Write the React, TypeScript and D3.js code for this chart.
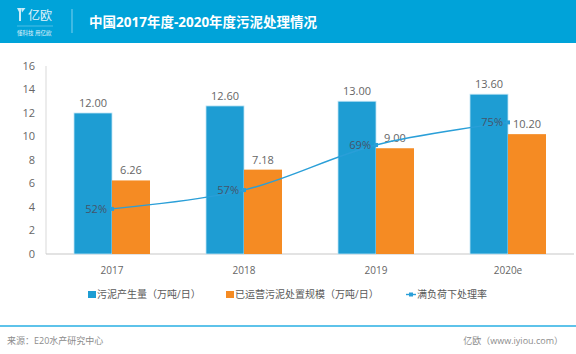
import React, { useRef, useEffect } from "react";
import * as d3 from "d3";

const years = ["2017", "2018", "2019", "2020e"];
const sludgeOutput = [12.0, 12.6, 13.0, 13.6];
const disposalCapacity = [6.26, 7.18, 9.0, 10.2];
const fullLoadRate = [52, 57, 69, 75];
const yTicks = [0, 2, 4, 6, 8, 10, 12, 14, 16];

const FONT = "'Open Sans', 'Noto Sans CJK SC', sans-serif";
const BLUE = "#1e9dd3";
const ORANGE = "#f58b23";
const LINE = "#2a9fd8";

export default function App() {
  const ref = useRef<SVGSVGElement>(null);

  useEffect(() => {
    const width = 576, height = 354;
    const margin = { top: 66, right: 2, bottom: 100, left: 46 };
    const svg = d3.select(ref.current);
    svg.selectAll("*").remove();

    // header band
    svg.append("rect").attr("x", 0).attr("y", 0).attr("width", width).attr("height", 43).attr("fill", "#00a3d9");
    const logo = svg.append("g").attr("fill", "#e3f4fb");
    logo.append("path").attr("d", "M17 8 L21 8 L21 21 L19 21 L19 12 Z M21 8 L25.5 8 L22 12.5 Z").attr("opacity", 0.9);
    logo.append("text").attr("x", 28).attr("y", 20).style("font-family", FONT).style("font-size", 12).text("亿欧");
    logo.append("line").attr("x1", 17).attr("x2", 53).attr("y1", 26).attr("y2", 26).attr("stroke", "#7fd0ee").attr("stroke-width", 0.6);
    logo.append("text").attr("x", 17).attr("y", 34.5).style("font-family", FONT).style("font-size", 5.5).text("懂科技 用亿欧");
    svg.append("line").attr("x1", 72).attr("x2", 72).attr("y1", 9).attr("y2", 33).attr("stroke", "#7fd0ee").attr("stroke-width", 1);
    svg.append("text").attr("x", 89).attr("y", 26.5)
      .style("font-family", FONT).style("font-size", 13.5).style("font-weight", 700).style("fill", "#fff")
      .text("中国2017年度-2020年度污泥处理情况");

    const x = d3.scaleBand().domain(years).range([margin.left, width - margin.right]);
    const y = d3.scaleLinear().domain([0, 16]).range([height - margin.bottom, margin.top]);
    const yRate = d3.scaleLinear().domain([40, 90]).range([height - margin.bottom, margin.top]);
    const barW = 38;

    // axes
    svg.append("line").attr("x1", margin.left).attr("x2", margin.left).attr("y1", y(16)).attr("y2", y(0)).attr("stroke", "#d9d9d9");
    svg.append("line").attr("x1", margin.left).attr("x2", width - margin.right).attr("y1", y(0)).attr("y2", y(0)).attr("stroke", "#c8c8c8").attr("stroke-width", 1.2);

    svg.append("g").selectAll("text").data(yTicks).enter().append("text")
      .attr("x", 35).attr("y", d => y(d)).attr("dy", "0.35em").attr("text-anchor", "end")
      .style("font-family", FONT).style("font-size", 11).style("fill", "#666").text(d => d);

    svg.append("g").selectAll("text").data(years).enter().append("text")
      .attr("x", d => x(d)! + x.bandwidth() / 2).attr("y", 274).attr("text-anchor", "middle")
      .style("font-family", FONT).style("font-size", 10).style("fill", "#666").text(d => d);

    // bars
    const cx = (i: number) => x(years[i])! + x.bandwidth() / 2;
    svg.append("g").selectAll("rect").data(sludgeOutput).enter().append("rect")
      .attr("x", (d, i) => cx(i) - barW).attr("y", d => y(d)).attr("width", barW).attr("height", d => y(0) - y(d))
      .attr("fill", BLUE).attr("stroke", "#bfe4f4").attr("stroke-width", 0.8);
    svg.append("g").selectAll("rect").data(disposalCapacity).enter().append("rect")
      .attr("x", (d, i) => cx(i)).attr("y", d => y(d)).attr("width", barW).attr("height", d => y(0) - y(d))
      .attr("fill", ORANGE);

    svg.append("g").selectAll("text").data(sludgeOutput).enter().append("text")
      .attr("x", (d, i) => cx(i) - barW / 2).attr("y", d => y(d) - 6).attr("text-anchor", "middle")
      .style("font-family", FONT).style("font-size", 11).style("fill", "#666").text(d => d.toFixed(2));
    svg.append("g").selectAll("text").data(disposalCapacity).enter().append("text")
      .attr("x", (d, i) => cx(i) + barW / 2).attr("y", d => y(d) - 6).attr("text-anchor", "middle")
      .style("font-family", FONT).style("font-size", 11).style("fill", "#666").text(d => d.toFixed(2));

    // line
    const line = d3.line<number>().x((d, i) => cx(i)).y(d => yRate(d)).curve(d3.curveCatmullRom.alpha(0.5));
    svg.append("path").datum(fullLoadRate).attr("d", line).attr("fill", "none").attr("stroke", LINE).attr("stroke-width", 1.4);
    svg.append("g").selectAll("rect").data(fullLoadRate).enter().append("rect")
      .attr("x", (d, i) => cx(i) - 2).attr("y", d => yRate(d) - 2).attr("width", 4).attr("height", 4).attr("fill", LINE);
    svg.append("g").selectAll("text").data(fullLoadRate).enter().append("text")
      .attr("x", (d, i) => cx(i) - 5).attr("y", d => yRate(d)).attr("dy", "0.35em").attr("text-anchor", "end")
      .style("font-family", FONT).style("font-size", 11).style("fill", "#44546a").text(d => d + "%");

    // legend
    const lg = svg.append("g").style("font-family", FONT).style("font-size", 10).style("fill", "#595959");
    lg.append("rect").attr("x", 88).attr("y", 291).attr("width", 8).attr("height", 7).attr("fill", BLUE);
    lg.append("text").attr("x", 97).attr("y", 298).text("污泥产生量（万吨/日）");
    lg.append("rect").attr("x", 226).attr("y", 291).attr("width", 8).attr("height", 7).attr("fill", ORANGE);
    lg.append("text").attr("x", 235).attr("y", 298).text("已运营污泥处置规模（万吨/日）");
    lg.append("line").attr("x1", 406).attr("x2", 416).attr("y1", 294.5).attr("y2", 294.5).attr("stroke", LINE).attr("stroke-width", 1.4);
    lg.append("rect").attr("x", 409).attr("y", 292.5).attr("width", 4).attr("height", 4).attr("fill", LINE);
    lg.append("text").attr("x", 417).attr("y", 298).text("满负荷下处理率");

    // footer
    svg.append("line").attr("x1", 0).attr("x2", width).attr("y1", 326).attr("y2", 326).attr("stroke", "#5ec3ea").attr("stroke-width", 2);
    svg.append("text").attr("x", 7).attr("y", 344).style("font-family", FONT).style("font-size", 9).style("fill", "#8c8c8c").text("来源：E20水产研究中心");
    svg.append("text").attr("x", 563).attr("y", 344).attr("text-anchor", "end").style("font-family", FONT).style("font-size", 9).style("fill", "#8c8c8c").text("亿欧（www.iyiou.com）");
  }, []);

  return (
    <svg ref={ref} width={576} height={354} style={{ position: "absolute", left: 0, top: 0, background: "#fff" }}></svg>
  );
}
